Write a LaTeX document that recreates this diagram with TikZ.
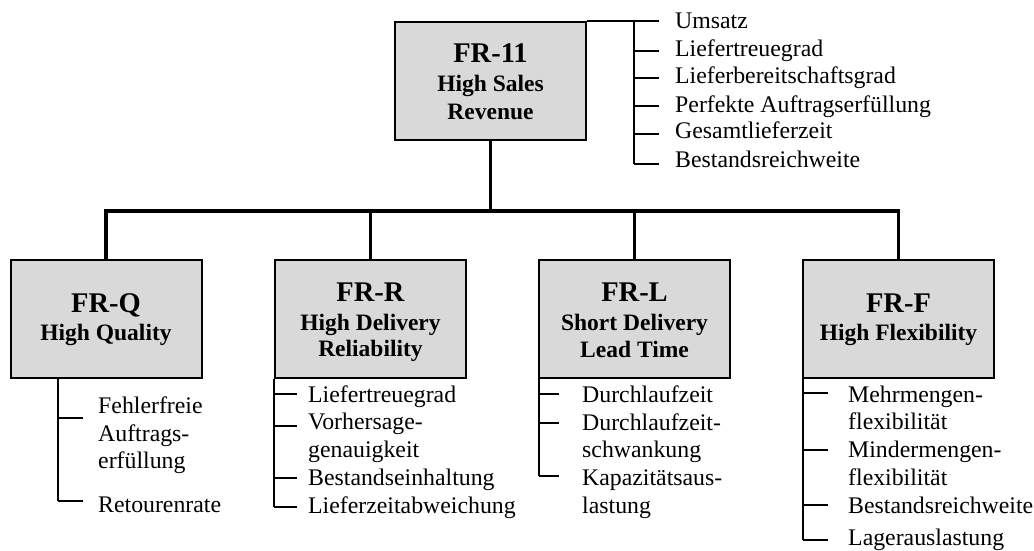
\documentclass[tikz,border=0pt]{standalone}
\usepackage{fontspec}
\setmainfont{Liberation Serif}
\definecolor{boxgray}{HTML}{D9D9D9}
\tikzset{
  box/.style={draw, line width=2pt, fill=boxgray, minimum width=191pt, minimum height=118pt, inner sep=0pt},
  ttl/.style={font=\bfseries\fontsize{28.5}{30}\selectfont, anchor=base, inner sep=0pt},
  sub/.style={font=\bfseries\fontsize{23.5}{28}\selectfont, anchor=base, inner sep=0pt},
  item/.style={font=\fontsize{23.8}{28}\selectfont, anchor=base west, inner sep=0pt},
  conn/.style={line width=3.5pt},
  lst/.style={line width=2pt},
}
\begin{document}
\begin{tikzpicture}[x=1pt,y=-1pt]
\useasboundingbox (0,0) rectangle (1034,551);

% requirement boxes
\node[box] (top) at (490.5,81) {};
\node[box] (q) at (106,319) {};
\node[box] (r) at (370.5,319) {};
\node[box] (l) at (634.5,319) {};
\node[box] (f) at (898.5,319) {};

% box captions
\node[ttl] (top-a) at (490.5,63) {FR-11};
\node[sub] (top-b) at (490.5,92) {High Sales};
\node[sub] (top-c) at (490.5,119) {Revenue};
\node[ttl] (q-a) at (106,312) {FR-Q};
\node[sub] (q-b) at (106,340) {High Quality};
\node[ttl] (r-a) at (370.5,301) {FR-R};
\node[sub] (r-b) at (370.5,330) {High Delivery};
\node[sub] (r-c) at (370.5,356) {Reliability};
\node[ttl] (l-a) at (634.5,301) {FR-L};
\node[sub] (l-b) at (634.5,330) {Short Delivery};
\node[sub] (l-c) at (634.5,357) {Lead Time};
\node[ttl] (f-a) at (898.5,312) {FR-F};
\node[sub] (f-b) at (898.5,340) {High Flexibility};

% decomposition tree
\coordinate (bus) at (0,211);
\draw[conn] (q.north) |- (f.north |- bus) -- (f.north);
\draw[conn] (top.south) -- (top.south |- bus);
\draw[conn] (r.north) -- (r.north |- bus);
\draw[conn] (l.north) -- (l.north |- bus);

% indicator list of FR-11
\coordinate (tsp) at (634,0);
\draw[lst] (top.north east) -- (tsp |- 0,21) -- (tsp |- 0,164);
\foreach \y in {21,51,78,106,134,164}
  \draw[lst] (tsp |- 0,\y) -- +(25,0);
\foreach \t/\y [count=\i] in {Umsatz/29, Liefertreuegrad/57, Lieferbereitschaftsgrad/84,
    Perfekte Auftragserfüllung/112, Gesamtlieferzeit/139, Bestandsreichweite/167}
  \node[item] (t\i) at (675,\y) {\t};

% indicator list of FR-Q
\coordinate (qsp) at (58,0);
\draw[lst] (qsp |- q.south) -- (qsp |- 0,501);
\foreach \y in {418,501}
  \draw[lst] (qsp |- 0,\y) -- +(25,0);
\foreach \t/\y [count=\i] in {Fehlerfreie/413, Auftrags-/441, erfüllung/468, Retourenrate/512}
  \node[item] (qi\i) at (98,\y) {\t};

% indicator list of FR-R
\coordinate (rsp) at (274,0);
\draw[lst] (rsp |- r.south) -- (rsp |- 0,507);
\foreach \y in {394,426,478,507}
  \draw[lst] (rsp |- 0,\y) -- +(23,0);
\foreach \t/\y [count=\i] in {Liefertreuegrad/402, Vorhersage-/429, genauigkeit/457,
    Bestandseinhaltung/485, Lieferzeitabweichung/513}
  \node[item] (ri\i) at (308,\y) {\t};

% indicator list of FR-L
\coordinate (lsp) at (539,0);
\draw[lst] (lsp |- l.south) -- (lsp |- 0,476);
\foreach \y in {394,423,476}
  \draw[lst] (lsp |- 0,\y) -- +(20,0);
\foreach \t/\y [count=\i] in {Durchlaufzeit/402, Durchlaufzeit-/430, schwankung/457,
    Kapazitätsaus-/485, lastung/513}
  \node[item] (li\i) at (582,\y) {\t};

% indicator list of FR-F
\coordinate (fsp) at (803,0);
\draw[lst] (fsp |- f.south) -- (fsp |- 0,540);
\foreach \y in {393,450,505,540}
  \draw[lst] (fsp |- 0,\y) -- +(25,0);
\foreach \t/\y [count=\i] in {Mehrmengen-/402, flexibilität/429, Mindermengen-/457,
    flexibilität/485, Bestandsreichweite/513, Lagerauslastung/545}
  \node[item] (fi\i) at (848,\y) {\t};
\end{tikzpicture}
\end{document}
